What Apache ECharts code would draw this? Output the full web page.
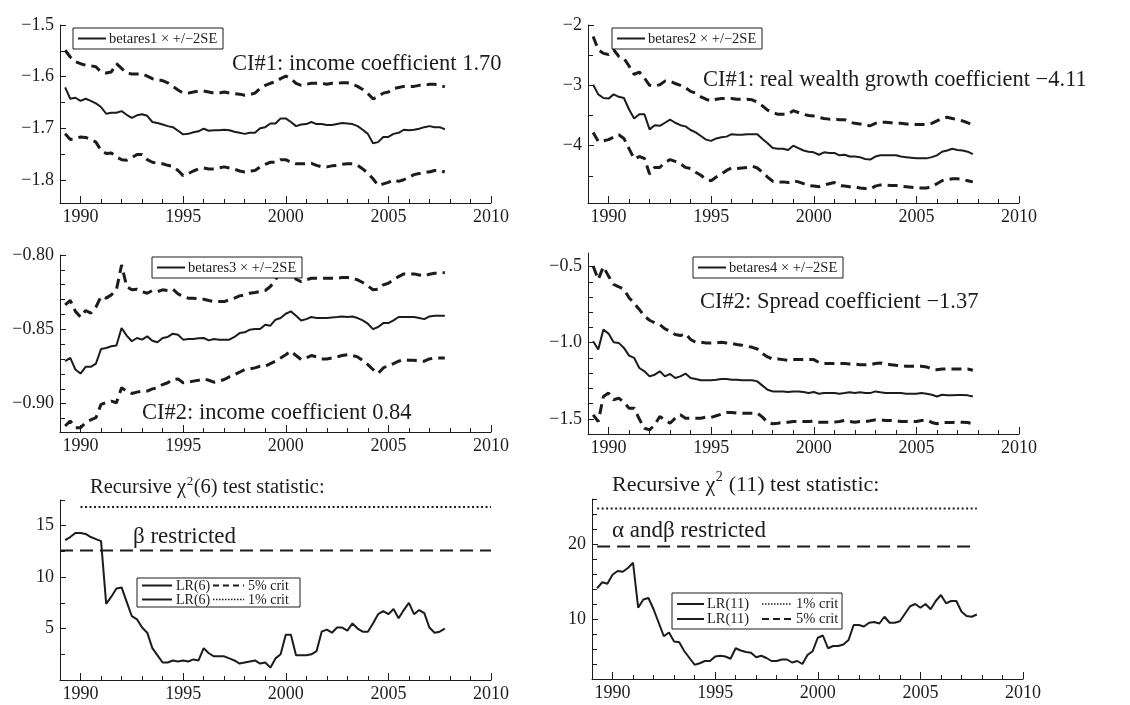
<!DOCTYPE html>
<html>
<head>
<meta charset="utf-8">
<script src="https://cdn.jsdelivr.net/npm/echarts@6/dist/echarts.min.js"></script>
<style>
  html, body { margin: 0; padding: 0; background: #fff; }
  #main { width: 1130px; height: 705px; }
</style>
</head>
<body>
<div id="main"></div>
<script>
const ink = '#1c1c1c'
const serif = '"Liberation Serif", "DejaVu Serif", serif'

// quarterly observations 1989Q2 .. 2007Q4
const quarters = Array.from({ length: 75 }, (_, i) => 1989.25 + i * 0.25)
const yearLabels = [1990, 1995, 2000, 2005, 2010]
const yearTicks = [1990, 1991, 1992, 1993, 1994, 1995, 1996, 1997, 1998, 1999, 2000,
  2001, 2002, 2003, 2004, 2005, 2006, 2007, 2008, 2009]

// CI#1 income coefficient (betares1) and +/-2SE
const betares1 = [-1.621, -1.643, -1.641,
  -1.647, -1.643, -1.647, -1.652, -1.659, -1.672, -1.670, -1.670, -1.667, -1.674, -1.680, -1.675,
  -1.673, -1.676, -1.688, -1.690, -1.693, -1.696, -1.698, -1.705, -1.712, -1.711, -1.708, -1.706,
  -1.701, -1.705, -1.704, -1.704, -1.703, -1.704, -1.707, -1.709, -1.711, -1.709, -1.709, -1.700,
  -1.698, -1.691, -1.691, -1.681, -1.681, -1.688, -1.696, -1.693, -1.692, -1.688, -1.692, -1.692,
  -1.694, -1.694, -1.692, -1.690, -1.691, -1.692, -1.696, -1.703, -1.711, -1.729, -1.727, -1.717,
  -1.717, -1.711, -1.709, -1.703, -1.704, -1.703, -1.701, -1.698, -1.696, -1.698, -1.698, -1.702]
const betares1Up = [-1.549, -1.562, -1.571,
  -1.575, -1.578, -1.579, -1.581, -1.591, -1.593, -1.591, -1.575, -1.584, -1.593, -1.595, -1.595,
  -1.595, -1.599, -1.604, -1.606, -1.608, -1.612, -1.619, -1.626, -1.632, -1.632, -1.630, -1.628,
  -1.628, -1.630, -1.632, -1.632, -1.630, -1.632, -1.633, -1.634, -1.636, -1.635, -1.632, -1.623,
  -1.617, -1.613, -1.610, -1.604, -1.599, -1.604, -1.613, -1.617, -1.615, -1.613, -1.613, -1.613,
  -1.615, -1.613, -1.613, -1.612, -1.612, -1.615, -1.619, -1.625, -1.633, -1.643, -1.639, -1.632,
  -1.630, -1.623, -1.621, -1.619, -1.619, -1.619, -1.617, -1.617, -1.615, -1.615, -1.617, -1.620]
const betares1Lo = [-1.711, -1.722, -1.720,
  -1.717, -1.718, -1.722, -1.727, -1.743, -1.749, -1.748, -1.756, -1.761, -1.762, -1.757, -1.751,
  -1.751, -1.761, -1.766, -1.768, -1.769, -1.772, -1.774, -1.782, -1.792, -1.788, -1.783, -1.779,
  -1.777, -1.779, -1.779, -1.777, -1.775, -1.777, -1.779, -1.783, -1.785, -1.783, -1.782, -1.775,
  -1.770, -1.766, -1.766, -1.761, -1.761, -1.766, -1.769, -1.769, -1.769, -1.768, -1.772, -1.775,
  -1.775, -1.773, -1.772, -1.770, -1.769, -1.769, -1.772, -1.779, -1.787, -1.798, -1.811, -1.808,
  -1.805, -1.800, -1.803, -1.800, -1.795, -1.790, -1.788, -1.785, -1.785, -1.782, -1.782, -1.785]

// CI#1 real wealth growth coefficient (betares2)
const betares2 = [-2.99, -3.15, -3.21,
  -3.22, -3.15, -3.19, -3.21, -3.40, -3.55, -3.48, -3.48, -3.73, -3.66, -3.67, -3.62,
  -3.57, -3.62, -3.66, -3.68, -3.74, -3.78, -3.84, -3.90, -3.92, -3.88, -3.86, -3.85,
  -3.81, -3.82, -3.82, -3.81, -3.81, -3.81, -3.89, -3.96, -4.04, -4.05, -4.05, -4.07,
  -4.00, -4.04, -4.08, -4.10, -4.11, -4.15, -4.11, -4.12, -4.12, -4.16, -4.15, -4.18,
  -4.18, -4.19, -4.22, -4.23, -4.18, -4.16, -4.16, -4.16, -4.16, -4.18, -4.19, -4.20,
  -4.21, -4.21, -4.21, -4.19, -4.16, -4.10, -4.08, -4.05, -4.07, -4.08, -4.10, -4.14]
const betares2Up = [-2.19, -2.41, -2.47,
  -2.49, -2.41, -2.52, -2.55, -2.68, -2.82, -2.78, -2.88, -3.00, -3.01, -2.99, -2.93,
  -2.93, -2.97, -3.00, -3.04, -3.10, -3.13, -3.19, -3.23, -3.26, -3.23, -3.22, -3.22,
  -3.22, -3.23, -3.23, -3.23, -3.24, -3.28, -3.34, -3.41, -3.45, -3.48, -3.48, -3.48,
  -3.42, -3.45, -3.48, -3.50, -3.51, -3.53, -3.55, -3.56, -3.56, -3.57, -3.57, -3.61,
  -3.63, -3.64, -3.66, -3.67, -3.63, -3.61, -3.61, -3.62, -3.63, -3.63, -3.64, -3.64,
  -3.65, -3.65, -3.65, -3.63, -3.59, -3.55, -3.53, -3.55, -3.57, -3.59, -3.62, -3.66]
const betares2Lo = [-3.78, -3.93, -3.92,
  -3.90, -3.86, -3.82, -3.88, -4.05, -4.22, -4.18, -4.21, -4.47, -4.36, -4.36, -4.28,
  -4.23, -4.26, -4.30, -4.36, -4.38, -4.44, -4.49, -4.56, -4.58, -4.52, -4.47, -4.41,
  -4.37, -4.38, -4.37, -4.36, -4.34, -4.37, -4.44, -4.52, -4.59, -4.61, -4.60, -4.61,
  -4.58, -4.60, -4.63, -4.66, -4.67, -4.68, -4.65, -4.63, -4.61, -4.66, -4.67, -4.68,
  -4.68, -4.70, -4.71, -4.72, -4.67, -4.65, -4.65, -4.66, -4.66, -4.67, -4.68, -4.69,
  -4.70, -4.70, -4.70, -4.68, -4.63, -4.58, -4.56, -4.55, -4.55, -4.56, -4.58, -4.60]

// CI#2 income coefficient (betares3)
const betares3 = [-0.8714, -0.8692, -0.8770,
  -0.8797, -0.8752, -0.8752, -0.8730, -0.8632, -0.8625, -0.8614, -0.8609, -0.8491, -0.8542, -0.8580, -0.8558,
  -0.8569, -0.8547, -0.8576, -0.8587, -0.8558, -0.8551, -0.8529, -0.8536, -0.8569, -0.8565, -0.8565, -0.8560,
  -0.8558, -0.8574, -0.8565, -0.8569, -0.8569, -0.8569, -0.8551, -0.8525, -0.8520, -0.8502, -0.8498, -0.8498,
  -0.8469, -0.8475, -0.8435, -0.8424, -0.8395, -0.8379, -0.8408, -0.8440, -0.8431, -0.8417, -0.8424, -0.8424,
  -0.8424, -0.8420, -0.8417, -0.8413, -0.8417, -0.8413, -0.8424, -0.8440, -0.8462, -0.8498, -0.8484, -0.8458,
  -0.8458, -0.8440, -0.8417, -0.8417, -0.8417, -0.8417, -0.8424, -0.8431, -0.8413, -0.8408, -0.8408, -0.8408]
const betares3Up = [-0.8335, -0.8306, -0.8379,
  -0.8417, -0.8373, -0.8391, -0.8350, -0.8279, -0.8290, -0.8268, -0.8234, -0.8067, -0.8212, -0.8234, -0.8230,
  -0.8246, -0.8257, -0.8239, -0.8246, -0.8234, -0.8239, -0.8230, -0.8261, -0.8279, -0.8290, -0.8290, -0.8297,
  -0.8297, -0.8306, -0.8313, -0.8313, -0.8313, -0.8301, -0.8290, -0.8275, -0.8268, -0.8257, -0.8252, -0.8246,
  -0.8239, -0.8212, -0.8167, -0.8112, -0.8067, -0.8089, -0.8163, -0.8179, -0.8167, -0.8156, -0.8156, -0.8156,
  -0.8156, -0.8156, -0.8156, -0.8152, -0.8152, -0.8156, -0.8167, -0.8185, -0.8208, -0.8234, -0.8230, -0.8201,
  -0.8190, -0.8167, -0.8145, -0.8127, -0.8127, -0.8127, -0.8134, -0.8141, -0.8129, -0.8123, -0.8123, -0.8118]
const betares3Lo = [-0.9150, -0.9116, -0.9161,
  -0.9161, -0.9127, -0.9109, -0.9094, -0.9004, -0.8993, -0.8982, -0.8993, -0.8893, -0.8915, -0.8931, -0.8922,
  -0.8915, -0.8915, -0.8900, -0.8893, -0.8871, -0.8859, -0.8837, -0.8833, -0.8859, -0.8855, -0.8848, -0.8842,
  -0.8833, -0.8842, -0.8855, -0.8848, -0.8837, -0.8819, -0.8804, -0.8788, -0.8770, -0.8766, -0.8759, -0.8748,
  -0.8748, -0.8730, -0.8714, -0.8692, -0.8670, -0.8647, -0.8676, -0.8703, -0.8692, -0.8676, -0.8685, -0.8699,
  -0.8699, -0.8692, -0.8685, -0.8676, -0.8670, -0.8676, -0.8685, -0.8708, -0.8737, -0.8770, -0.8797, -0.8759,
  -0.8743, -0.8730, -0.8714, -0.8703, -0.8708, -0.8708, -0.8714, -0.8714, -0.8699, -0.8692, -0.8692, -0.8692]

// CI#2 spread coefficient (betares4)
const betares4 = [-0.990, -1.045, -0.913,
  -0.940, -0.997, -1.001, -1.034, -1.085, -1.100, -1.166, -1.188, -1.221, -1.210, -1.188, -1.221,
  -1.205, -1.232, -1.221, -1.203, -1.232, -1.238, -1.247, -1.247, -1.247, -1.243, -1.238, -1.238,
  -1.243, -1.243, -1.247, -1.247, -1.247, -1.254, -1.282, -1.309, -1.320, -1.320, -1.320, -1.324,
  -1.320, -1.320, -1.324, -1.331, -1.324, -1.335, -1.331, -1.331, -1.331, -1.335, -1.331, -1.326,
  -1.331, -1.326, -1.331, -1.331, -1.320, -1.326, -1.331, -1.331, -1.331, -1.331, -1.335, -1.335,
  -1.335, -1.331, -1.335, -1.342, -1.353, -1.342, -1.346, -1.346, -1.344, -1.344, -1.346, -1.353]
const betares4Up = [-0.496, -0.584, -0.500,
  -0.562, -0.617, -0.632, -0.649, -0.704, -0.742, -0.781, -0.825, -0.852, -0.869, -0.880, -0.909,
  -0.924, -0.946, -0.953, -0.940, -0.979, -0.997, -0.997, -1.001, -1.001, -1.001, -0.997, -1.001,
  -1.005, -1.012, -1.016, -1.023, -1.030, -1.041, -1.071, -1.093, -1.107, -1.107, -1.111, -1.115,
  -1.111, -1.111, -1.111, -1.111, -1.111, -1.129, -1.137, -1.137, -1.137, -1.137, -1.137, -1.140,
  -1.140, -1.144, -1.144, -1.144, -1.137, -1.133, -1.140, -1.144, -1.148, -1.151, -1.155, -1.155,
  -1.155, -1.155, -1.159, -1.173, -1.177, -1.173, -1.173, -1.173, -1.173, -1.173, -1.173, -1.181]
const betares4Lo = [-1.474, -1.518, -1.353,
  -1.331, -1.375, -1.364, -1.392, -1.430, -1.430, -1.502, -1.562, -1.573, -1.540, -1.485, -1.507,
  -1.529, -1.496, -1.474, -1.496, -1.496, -1.496, -1.496, -1.489, -1.491, -1.480, -1.469, -1.458,
  -1.458, -1.463, -1.463, -1.463, -1.463, -1.463, -1.489, -1.524, -1.533, -1.529, -1.524, -1.522,
  -1.518, -1.518, -1.518, -1.518, -1.515, -1.522, -1.522, -1.522, -1.522, -1.518, -1.511, -1.518,
  -1.522, -1.518, -1.518, -1.513, -1.507, -1.507, -1.511, -1.511, -1.513, -1.518, -1.518, -1.518,
  -1.518, -1.511, -1.507, -1.524, -1.533, -1.524, -1.524, -1.524, -1.522, -1.522, -1.524, -1.533]

// recursive LR test statistics
const lr6 = [13.6, 13.9, 14.3,
  14.3, 14.2, 13.9, 13.7, 13.5, 7.4, 8.1, 8.9, 9.0, 7.6, 6.2, 5.9,
  5.1, 4.6, 3.1, 2.4, 1.7, 1.7, 1.9, 1.8, 1.9, 1.8, 2.0, 1.9,
  3.1, 2.6, 2.3, 2.3, 2.3, 2.1, 1.9, 1.6, 1.7, 1.8, 1.9, 1.6,
  1.7, 1.2, 2.1, 2.5, 4.4, 4.4, 2.4, 2.4, 2.4, 2.5, 2.8, 4.7,
  4.9, 4.6, 5.1, 5.1, 4.8, 5.5, 5.0, 4.7, 4.7, 5.5, 6.4, 6.7,
  6.4, 6.9, 6.0, 6.8, 7.5, 6.4, 6.8, 6.5, 5.1, 4.6, 4.7, 5.0]
const lr11 = [14.1, 14.9, 14.7,
  15.9, 16.4, 16.3, 16.8, 17.5, 11.5, 12.6, 12.8, 11.3, 9.5, 7.7, 8.2,
  7.0, 6.9, 5.7, 4.8, 3.9, 4.1, 4.4, 4.4, 5.0, 5.1, 5.0, 4.7,
  6.1, 5.8, 5.6, 5.5, 4.9, 5.1, 4.8, 4.4, 4.4, 4.6, 4.6, 4.2,
  4.4, 4.0, 5.2, 5.7, 7.5, 7.8, 6.1, 6.4, 6.4, 6.6, 7.2, 9.2,
  9.2, 9.0, 9.5, 9.6, 9.4, 10.3, 9.5, 9.5, 9.7, 10.7, 11.7, 12.0,
  11.5, 12.0, 11.3, 12.4, 13.2, 12.1, 12.4, 12.4, 11.0, 10.4, 10.3, 10.6]
const crit6 = { five: 12.59, one: 16.81 }
const crit11 = { five: 19.68, one: 24.72 }

const panels = [
  { grid: { left: 60, top: 25, width: 431, height: 178 }, min: -1.845, max: -1.5, dec: 1,
    labels: [-1.8, -1.7, -1.6, -1.5], minor: [-1.75, -1.65, -1.55] },
  { grid: { left: 588, top: 25, width: 431, height: 178 }, min: -4.95, max: -2, dec: 0,
    labels: [-4, -3, -2], minor: [-4.5, -3.5, -2.5] },
  { grid: { left: 60, top: 255, width: 431, height: 177 }, min: -0.919, max: -0.8, dec: 2,
    labels: [-0.9, -0.85, -0.8], minor: [-0.91, -0.89, -0.88, -0.87, -0.86, -0.84, -0.83, -0.82, -0.81] },
  { grid: { left: 588, top: 253, width: 431, height: 181 }, min: -1.6, max: -0.41, dec: 1,
    labels: [-1.5, -1.0, -0.5], minor: [-1.4, -1.3, -1.2, -1.1, -0.9, -0.8, -0.7, -0.6] },
  { grid: { left: 60, top: 500, width: 431, height: 180 }, min: 0, max: 17.5, dec: 0,
    labels: [5, 10, 15], minor: [2.5, 7.5, 12.5, 17.5] },
  { grid: { left: 592, top: 499, width: 431, height: 180 }, min: 2, max: 26, dec: 0,
    labels: [10, 20], minor: [4, 6, 8, 12, 14, 16, 18, 22, 24, 26] }
]

const fmt = (v, d) => (v < 0 ? '\u2212' : '') + Math.abs(v).toFixed(d)

const grid = []
const xAxis = []
const yAxis = []
panels.forEach((p, i) => {
  grid.push(p.grid)
  xAxis.push({
    type: 'value', gridIndex: i, min: 1989, max: 2010, position: 'bottom',
    axisLine: { onZero: false, lineStyle: { color: ink, width: 1 } },
    axisTick: { inside: true, length: 7, customValues: yearLabels, lineStyle: { color: ink } },
    axisLabel: { customValues: yearLabels, formatter: v => String(v), color: ink, fontFamily: serif, fontSize: 18, margin: 5 },
    splitLine: { show: false }
  })
  xAxis.push({
    type: 'value', gridIndex: i, min: 1989, max: 2010, position: 'bottom',
    axisLine: { show: false },
    axisTick: { inside: true, length: 4, customValues: yearTicks, lineStyle: { color: ink } },
    axisLabel: { show: false },
    splitLine: { show: false }
  })
  yAxis.push({
    type: 'value', gridIndex: i, min: p.min, max: p.max, position: 'left',
    axisLine: { show: true, onZero: false, lineStyle: { color: ink, width: 1 } },
    axisTick: { show: true, inside: true, length: 6, customValues: p.labels, lineStyle: { color: ink } },
    axisLabel: { customValues: p.labels, formatter: v => fmt(v, p.dec), color: ink, fontFamily: serif, fontSize: 18, margin: 6 },
    splitLine: { show: false }
  })
  yAxis.push({
    type: 'value', gridIndex: i, min: p.min, max: p.max, position: 'left',
    axisLine: { show: false },
    axisTick: { show: true, inside: true, length: 5, customValues: p.minor, lineStyle: { color: ink } },
    axisLabel: { show: false },
    splitLine: { show: false }
  })
})

const solid = { color: ink, width: 2 }
const dashed = { color: ink, width: 3, type: [10, 6] }
const critDash = { color: ink, width: 2, type: [13, 7] }
const critDot = { color: ink, width: 2, type: [2, 2.5] }

function serie(i, arr, style) {
  return {
    type: 'line', xAxisIndex: 2 * i, yAxisIndex: 2 * i,
    data: quarters.map((q, k) => [q, arr[k]]),
    showSymbol: false, symbol: 'none', lineStyle: style, silent: true
  }
}
function hline(i, from, to, value, style) {
  return {
    type: 'line', xAxisIndex: 2 * i, yAxisIndex: 2 * i,
    data: [[from, value], [to, value]],
    showSymbol: false, symbol: 'none', lineStyle: style, silent: true
  }
}

const series = [
  serie(0, betares1Up, dashed), serie(0, betares1, solid), serie(0, betares1Lo, dashed),
  serie(1, betares2Up, dashed), serie(1, betares2, solid), serie(1, betares2Lo, dashed),
  serie(2, betares3Up, dashed), serie(2, betares3, solid), serie(2, betares3Lo, dashed),
  serie(3, betares4Up, dashed), serie(3, betares4, solid), serie(3, betares4Lo, dashed),
  hline(4, 1990, 2010, crit6.one, critDot), hline(4, 1989, 2010, crit6.five, critDash), serie(4, lr6, solid),
  hline(5, 1989.25, 2007.75, crit11.one, critDot), hline(5, 1989.25, 2007.75, crit11.five, critDash), serie(5, lr11, solid)
]

// annotations and legend boxes
const measureCtx = document.createElement('canvas').getContext('2d')
function textWidth(s, size) {
  measureCtx.font = size + 'px ' + serif
  return measureCtx.measureText(s).width
}
function txt(x, y, text, size) {
  return {
    type: 'text', x, y, z: 100,
    style: { text, fill: ink, font: size + 'px ' + serif, verticalAlign: 'middle', align: 'left' }
  }
}
// text with a raised "2" after the chi
function chiText(x, y, before, after, size) {
  const w1 = textWidth(before, size)
  const sup = Math.round(size * 0.62)
  const w2 = textWidth('2', sup)
  return [
    txt(x, y, before, size),
    txt(x + w1 + 0.5, y - size * 0.33, '2', sup),
    txt(x + w1 + w2 + 1, y, after, size)
  ]
}
function box(x, y, w, h) {
  return { type: 'rect', z: 99, shape: { x, y, width: w, height: h }, style: { fill: '#fff', stroke: ink, lineWidth: 1 } }
}
function seg(x1, x2, y, dash, width) {
  return { type: 'line', z: 100, shape: { x1, y1: y, x2, y2: y }, style: { stroke: ink, lineWidth: width || 2, lineDash: dash || null } }
}
function betaLegend(x, y, name) {
  return [box(x, y, 150, 21), seg(x + 5, x + 33, y + 10.5), txt(x + 36, y + 11, name + ' \u00d7 +/\u22122SE', 14.5)]
}

const graphic = [
  ...betaLegend(73, 28, 'betares1'),
  ...betaLegend(612, 28, 'betares2'),
  ...betaLegend(152, 257, 'betares3'),
  ...betaLegend(693, 257, 'betares4'),
  txt(232, 64, 'CI#1: income coefficient 1.70', 22.5),
  txt(703, 80, 'CI#1: real wealth growth coefficient \u22124.11', 22.5),
  txt(142, 413, 'CI#2: income coefficient 0.84', 22.5),
  txt(700, 302, 'CI#2: Spread coefficient \u22121.37', 22.5),
  ...chiText(90, 488, 'Recursive \u03c7', '(6) test statistic:', 20.5),
  txt(133, 537, '\u03b2 restricted', 23),
  ...chiText(612, 485, 'Recursive \u03c7', ' (11) test statistic:', 22),
  txt(612, 531, '\u03b1 and\u03b2 restricted', 23),
  // LR(6) legend
  box(137, 578, 163, 29),
  seg(142, 172, 585.5), txt(176, 586, 'LR(6)', 14),
  seg(213, 244, 585.5, [6, 4]), txt(248, 586, '5% crit', 14),
  seg(142, 172, 599.5), txt(176, 600, 'LR(6)', 14),
  seg(213, 244, 599.5, [1.5, 1.5], 1.5), txt(248, 600, '1% crit', 14),
  // LR(11) legend
  box(672, 593, 170, 36),
  seg(677, 704, 604), txt(707, 604, 'LR(11)', 14.5),
  seg(762, 792, 604, [1.5, 1.5], 1.5), txt(796, 604, '1% crit', 14.5),
  seg(677, 704, 619), txt(707, 619, 'LR(11)', 14.5),
  seg(762, 792, 619, [7, 4]), txt(796, 619, '5% crit', 14.5)
]

const chart = echarts.init(document.getElementById('main'))
chart.setOption({
  animation: false,
  backgroundColor: '#fff',
  grid,
  xAxis,
  yAxis,
  series,
  graphic: { elements: graphic }
})
</script>
</body>
</html>
